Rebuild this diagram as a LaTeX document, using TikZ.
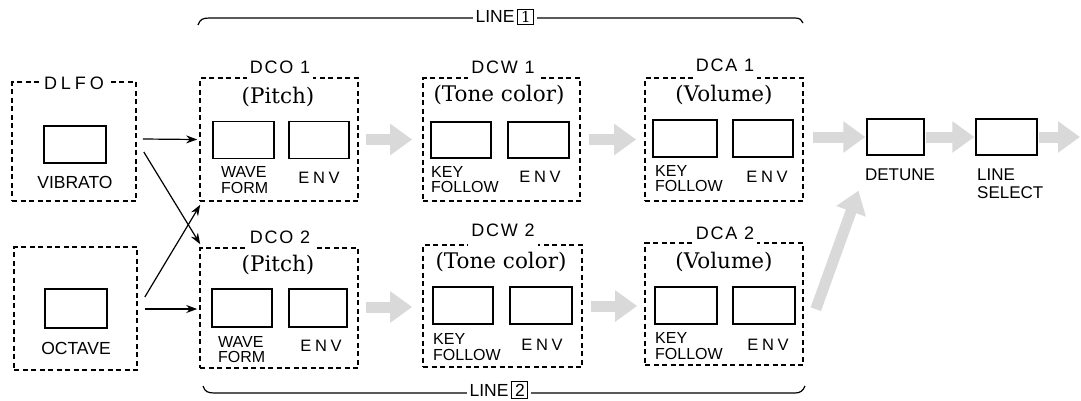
\documentclass[tikz,border=0pt]{standalone}
\usepackage{fontspec}
\setmainfont{Liberation Sans}
\newfontfamily\parfont{DejaVu Serif}
\newfontfamily\spacedfont[LetterSpace=10]{Liberation Sans}
\newfontfamily\widefont[LetterSpace=22]{Liberation Sans}
\usetikzlibrary{arrows.meta,calc}
\begin{document}
\begin{tikzpicture}[x=1pt,y=-1pt,
  dbox/.style={draw, dash pattern=on 5pt off 3.5pt, line width=1.6pt, inner sep=0pt},
  ibox/.style={draw, line width=1.3pt, minimum width=61pt, minimum height=37pt, inner sep=0pt},
  sub/.style={font=\fontsize{16}{15.5}\selectfont, align=left, inner sep=0pt},
  kf/.style={font=\fontsize{16}{15.5}\selectfont, align=left, inner sep=0pt, anchor=west},
  envlbl/.style={font=\widefont\fontsize{16.5}{15}\selectfont, inner sep=0pt},
  ttl/.style={font=\spacedfont\fontsize{18}{18}\selectfont, fill=white, inner xsep=3pt, inner ysep=0pt},
  par/.style={font=\parfont\fontsize{21.5}{21}\selectfont, inner sep=0pt},
  barrow/.style={line width=1.2pt, -{Stealth[length=11pt,width=8pt]}},
  garrow/.style={draw=gray!30, line width=11pt, -{Triangle[width=30pt,length=22pt]}},
  brace/.style={line width=1.2pt},
  linelbl/.style={font=\fontsize{17.5}{17}\selectfont, fill=white, inner xsep=3pt, inner ysep=2pt}
]
\useasboundingbox (0,0) rectangle (1081,400);

% ---- DLFO / OCTAVE ----
\node[dbox, minimum width=124pt, minimum height=119pt] (dlfo) at (74,141.5) {};
\node[ttl, font=\widefont\fontsize{18}{18}\selectfont, minimum height=12pt] (dlfot) at (74,83) {DLFO};
\node[ibox, minimum width=62pt] (vib) at (75,144.5) {};
\node[font=\fontsize{17.5}{16}\selectfont, inner sep=0pt] (vibt) at (75,182) {VIBRATO};

\node[dbox, minimum width=123pt, minimum height=123pt] (oct) at (75.5,308.5) {};
\node[ibox, minimum width=62pt, minimum height=39pt] (octb) at (76,308.5) {};
\node[font=\fontsize{17.5}{16}\selectfont, inner sep=0pt] (octt) at (76,348) {OCTAVE};

% ---- DCO ----
\node[dbox, minimum width=158pt, minimum height=123pt] (dco1) at (279,139.5) {};
\node[ttl, minimum height=26pt] (dco1t) at (280,67) {DCO 1};
\node[par] (dco1p) at (278,97) {(Pitch)};
\node[ibox] (dco1w) at (243.5,140) {};
\node[ibox, minimum width=60pt] (dco1e) at (319,140) {};
\node[kf] (dco1wt) at (221,180) {WAVE\\FORM};
\node[envlbl] (dco1et) at (319,178) {ENV};

\node[dbox, minimum width=158pt, minimum height=120pt] (dco2) at (279,308) {};
\node[ttl, minimum height=26pt] (dco2t) at (280,237) {DCO 2};
\node[par] (dco2p) at (278,265) {(Pitch)};
\node[ibox, minimum width=60pt, minimum height=38pt] (dco2w) at (242,308) {};
\node[ibox, minimum width=58pt, minimum height=38pt] (dco2e) at (318,308) {};
\node[kf] (dco2wt) at (218,349.5) {WAVE\\FORM};
\node[envlbl] (dco2et) at (321,346) {ENV};

% ---- DCW ----
\node[dbox, minimum width=157pt, minimum height=123pt] (dcw1) at (501.5,139.5) {};
\node[ttl, minimum height=26pt] (dcw1t) at (503,67) {DCW 1};
\node[par] (dcw1p) at (499,95) {(Tone color)};
\node[ibox, minimum width=60pt, minimum height=36pt] (dcw1k) at (461,140) {};
\node[ibox, minimum width=61pt, minimum height=36pt] (dcw1e) at (538.5,140) {};
\node[kf] (dcw1kt) at (431,179.5) {KEY\\FOLLOW};
\node[envlbl] (dcw1et) at (540,177) {ENV};

\node[dbox, minimum width=159pt, minimum height=122pt] (dcw2) at (502.5,306) {};
\node[ttl, minimum height=34pt] (dcw2t) at (503,230) {DCW 2};
\node[par] (dcw2p) at (501,262) {(Tone color)};
\node[ibox, minimum width=60pt, minimum height=37pt] (dcw2k) at (463,305.5) {};
\node[ibox, minimum width=62pt, minimum height=37pt] (dcw2e) at (541,305.5) {};
\node[kf] (dcw2kt) at (433,347) {KEY\\FOLLOW};
\node[envlbl] (dcw2et) at (542,345) {ENV};

% ---- DCA ----
\node[dbox, minimum width=158pt, minimum height=123pt] (dca1) at (724,139.5) {};
\node[ttl, minimum height=30pt] (dca1t) at (725,65) {DCA 1};
\node[par] (dca1p) at (724,95) {(Volume)};
\node[ibox, minimum width=64pt] (dca1k) at (685,138.5) {};
\node[ibox, minimum width=60pt] (dca1e) at (763,138.5) {};
\node[kf] (dca1kt) at (655,178.5) {KEY\\FOLLOW};
\node[envlbl] (dca1et) at (767,177) {ENV};

\node[dbox, minimum width=158pt, minimum height=122pt] (dca2) at (724,304) {};
\node[ttl, minimum height=24pt] (dca2t) at (725,233) {DCA 2};
\node[par] (dca2p) at (724,262) {(Volume)};
\node[ibox, minimum width=62pt] (dca2k) at (686,305.5) {};
\node[ibox, minimum width=62pt] (dca2e) at (764,305.5) {};
\node[kf] (dca2kt) at (655,346) {KEY\\FOLLOW};
\node[envlbl] (dca2et) at (768,345) {ENV};

% ---- DETUNE / LINE SELECT ----
\node[ibox, minimum width=57pt, minimum height=36pt] (det) at (895.5,137) {};
\node[font=\fontsize{17}{16}\selectfont, inner sep=0pt] (dett) at (900,175) {DETUNE};
\node[ibox, minimum width=61pt, minimum height=36pt] (lsel) at (1006.5,137) {};
\node[sub, anchor=west, font=\fontsize{17}{18}\selectfont] (lselt) at (977,184) {LINE\\SELECT};
\coordinate (out) at (1080,137);

% ---- black arrows ----
\draw[barrow] ($(dlfo.east)+(6,-2.5)$) -- ($(dco1.west)+(-2,0)$);
\draw[barrow] ($(dlfo.east)+(7,10.5)$) -- ($(dco2.north west)+(1,-3)$);
\draw[barrow] ($(oct.east)+(7,-11.5)$) -- ($(dco1.south west)+(1,3)$);
\draw[barrow] ($(oct.east)+(7,0.5)$) -- ($(dco2.west)+(-2,1)$);

% ---- gray arrows ----
\draw[garrow, shorten <=7pt, shorten >=10pt] (dco1.east) -- (dcw1.west);
\draw[garrow, shorten <=8pt, shorten >=8pt] (dcw1.east) -- (dca1.west);
\draw[garrow, shorten <=9pt, shorten >=1pt] ($(dca1.east)+(0,-2.5)$) -- (det.west);
\draw[garrow, shorten <=1pt, shorten >=1pt] (det.east) -- (lsel.west);
\draw[garrow, shorten <=1pt] (lsel.east) -- (out);
\draw[garrow, shorten <=7pt, shorten >=10pt] ($(dco2.east)+(0,-1)$) -- ($(dcw2.west)+(0,1)$);
\draw[garrow, shorten <=8pt, shorten >=7pt] (dcw2.east) -- ($(dca2.west)+(0,2)$);
\coordinate (dg1) at ($(dca2.north east)+(12,67)$);
\coordinate (dg2) at ($(det.south)+(-37,35)$);
\draw[garrow] (dg1) -- (dg2);

% ---- braces ----
\draw[brace] (198,25) .. controls (200,19) and (203,18) .. (210,18) -- (795,18) .. controls (800,18) and (802,20) .. (803,23);
\node[linelbl] (l1) at (505,17) {LINE\,\setlength{\fboxsep}{1.5pt}\setlength{\fboxrule}{1pt}\fbox{\makebox[12pt]{\parfont\fontsize{15}{15}\selectfont 1}}};
\draw[brace] (203,386) .. controls (205,392) and (208,393) .. (215,393) -- (795,393) .. controls (800,393) and (803,391) .. (805,386);
\node[linelbl] (l2) at (499,390) {LINE\,\setlength{\fboxsep}{1.5pt}\setlength{\fboxrule}{1pt}\fbox{\makebox[12pt]{2}}};
\end{tikzpicture}
\end{document}
